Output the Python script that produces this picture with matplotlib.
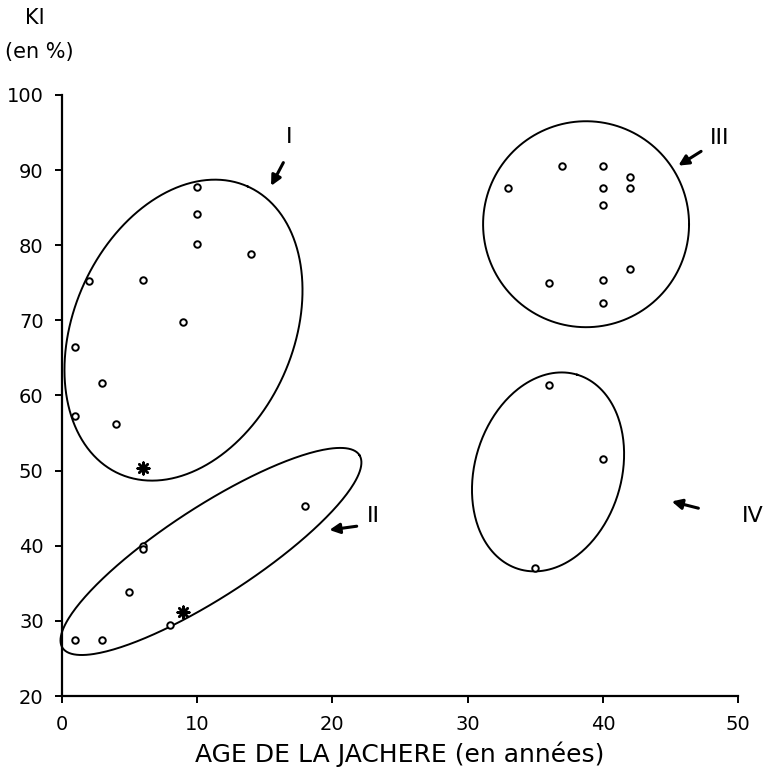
import numpy as np
import matplotlib
matplotlib.use("Agg")
import matplotlib.pyplot as plt

# --- data (age de la jachere en annees, KI en %) ---
circ_x = [10, 10, 10, 14, 2, 6, 9, 1, 3, 1, 4,
          18, 6, 6, 5, 8, 1, 3,
          37, 40, 42, 33, 40, 42, 40, 42, 36, 40, 40,
          36, 40, 35]
circ_y = [87.8, 84.2, 80.1, 78.9, 75.3, 75.4, 69.8, 66.4, 61.7, 57.3, 56.2,
          45.3, 40.0, 39.6, 33.8, 29.4, 27.4, 27.4,
          90.5, 90.5, 89.1, 87.6, 87.6, 87.6, 85.4, 76.9, 75.0, 75.4, 72.3,
          61.4, 51.6, 37.0]
star_x = [6, 9]
star_y = [50.3, 31.2]

# groupes: centre (x, y), demi-axes (en unites de x), angle (deg)
groups = ["I", "II", "III", "IV"]
grp_center = [(9.0, 68.7), (11.03, 39.24), (38.75, 82.8), (35.94, 49.83)]
grp_axes = [(11.63, 8.11), (13.08, 3.33), (7.61, 7.61), (7.50, 5.42)]
grp_angle = [65.9, 33.0, 0.0, 73.3]
label_pos = [(16.8, 94.4), (23.0, 43.9), (48.65, 94.25), (51.1, 43.9)]
arrow_tail = [(16.38, 91.0), (21.8, 42.6), (47.25, 92.5), (47.05, 45.0)]
arrow_tip = [(15.47, 87.9), (19.78, 42.1), (45.57, 90.6), (45.08, 45.9)]

W, H = 765, 769
fig = plt.figure(figsize=(W / 100, H / 100), dpi=100)
x0, x1, y0, y1 = 61.7, 738.3, 95, 696
ax = fig.add_axes([x0 / W, 1 - y1 / H, (x1 - x0) / W, (y1 - y0) / H])
ax.set_xlim(0, 50)
ax.set_ylim(20, 100)

# rapport d'echelle y/x (px par unite)
k = ((y1 - y0) / 80) / ((x1 - x0) / 50)

t = np.linspace(0, 2 * np.pi, 300)
for (cx, cy), (a, b), ang in zip(grp_center, grp_axes, grp_angle):
    th = np.radians(ang)
    u, v = a * np.cos(t), b * np.sin(t)
    ex = cx + u * np.cos(th) - v * np.sin(th)
    ey = cy + (u * np.sin(th) + v * np.cos(th)) / k
    ax.plot(ex, ey, color="black", lw=1.4, clip_on=False)

ax.scatter(circ_x, circ_y, s=22, facecolors="white", edgecolors="black",
           linewidths=1.4, zorder=3)
ax.scatter(star_x, star_y, s=70, marker=(8, 2, 0), color="black",
           linewidths=1.8, zorder=3)

for lab, lp, tl, tp in zip(groups, label_pos, arrow_tail, arrow_tip):
    ax.text(lp[0], lp[1], lab, ha="center", va="center", fontsize=16,
            color="black", clip_on=False)
    ax.annotate("", xy=tp, xytext=tl, annotation_clip=False,
                arrowprops=dict(arrowstyle="-|>,head_length=0.6,head_width=0.3",
                                color="black", lw=2.2, shrinkA=0, shrinkB=0))

for s in ["top", "right"]:
    ax.spines[s].set_visible(False)
for s in ["left", "bottom"]:
    ax.spines[s].set_linewidth(1.6)
ax.set_xticks([0, 10, 20, 30, 40, 50])
ax.set_yticks(range(20, 101, 10))
ax.tick_params(direction="out", length=5, width=1.4, labelsize=14)
ax.tick_params(axis="x", pad=9)
ax.tick_params(axis="y", pad=8)

ax.set_xlabel("AGE DE LA JACHERE (en années)", fontsize=18, labelpad=5)
fig.text(35 / W, 1 - 18 / H, "KI", ha="center", va="center", fontsize=15)
fig.text(39 / W, 1 - 52 / H, "(en %)", ha="center", va="center", fontsize=15)

fig.savefig("out.png", dpi=100)
